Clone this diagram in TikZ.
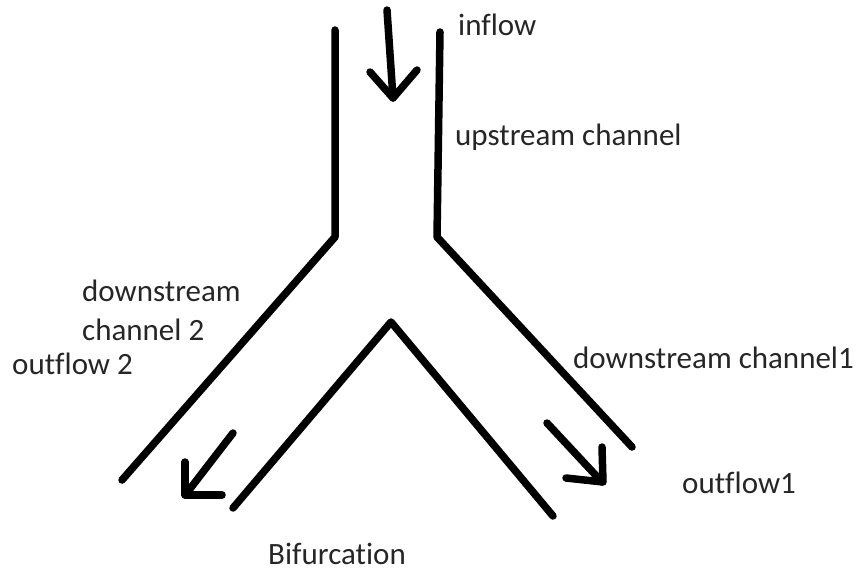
\documentclass[tikz,border=0pt]{standalone}
\usepackage{fontspec}
\setmainfont[Ligatures=CommonOff]{Carlito}
\begin{document}
\begin{tikzpicture}[x=1pt,y=-1pt,
  wall/.style={line width=7.5pt,line cap=round,line join=round,black},
  lbl/.style={anchor=west,inner sep=0pt,font=\fontsize{31}{33}\selectfont,text=black!85}]
\useasboundingbox (0,0) rectangle (861,571);
% channel walls
\draw[wall] (335,30) -- (335,237) -- (122,480);
\draw[wall] (440,32) -- (437,237) -- (632,447);
\draw[wall] (233,508) -- (391,322) -- (553,516);
% inflow arrow
\draw[wall] (387,10) -- (393,98);
\draw[wall] (370,72) -- (393,98) -- (417,70);
% outflow 2 arrow
\draw[wall] (233,433) -- (186,494);
\draw[wall] (185,462) -- (185,495) -- (222,495);
% outflow 1 arrow
\draw[wall] (547,423) -- (602,482);
\draw[wall] (602,447) -- (603,482) -- (566,478);
% labels
\node[lbl] (inflow) at (458,25) {inflow};
\node[lbl] (up) at (455,137) {upstream channel};
\node[lbl] (ds2a) at (82,291) {downstream};
\node[lbl] (ds2b) at (82,330) {channel 2};
\node[lbl] (out2) at (12,364) {outflow 2};
\node[lbl] (ds1) at (573,358) {downstream channel1};
\node[lbl] (out1) at (682,483) {outflow1};
\node[lbl] (bif) at (268,554) {Bifurcation};
\end{tikzpicture}
\end{document}
